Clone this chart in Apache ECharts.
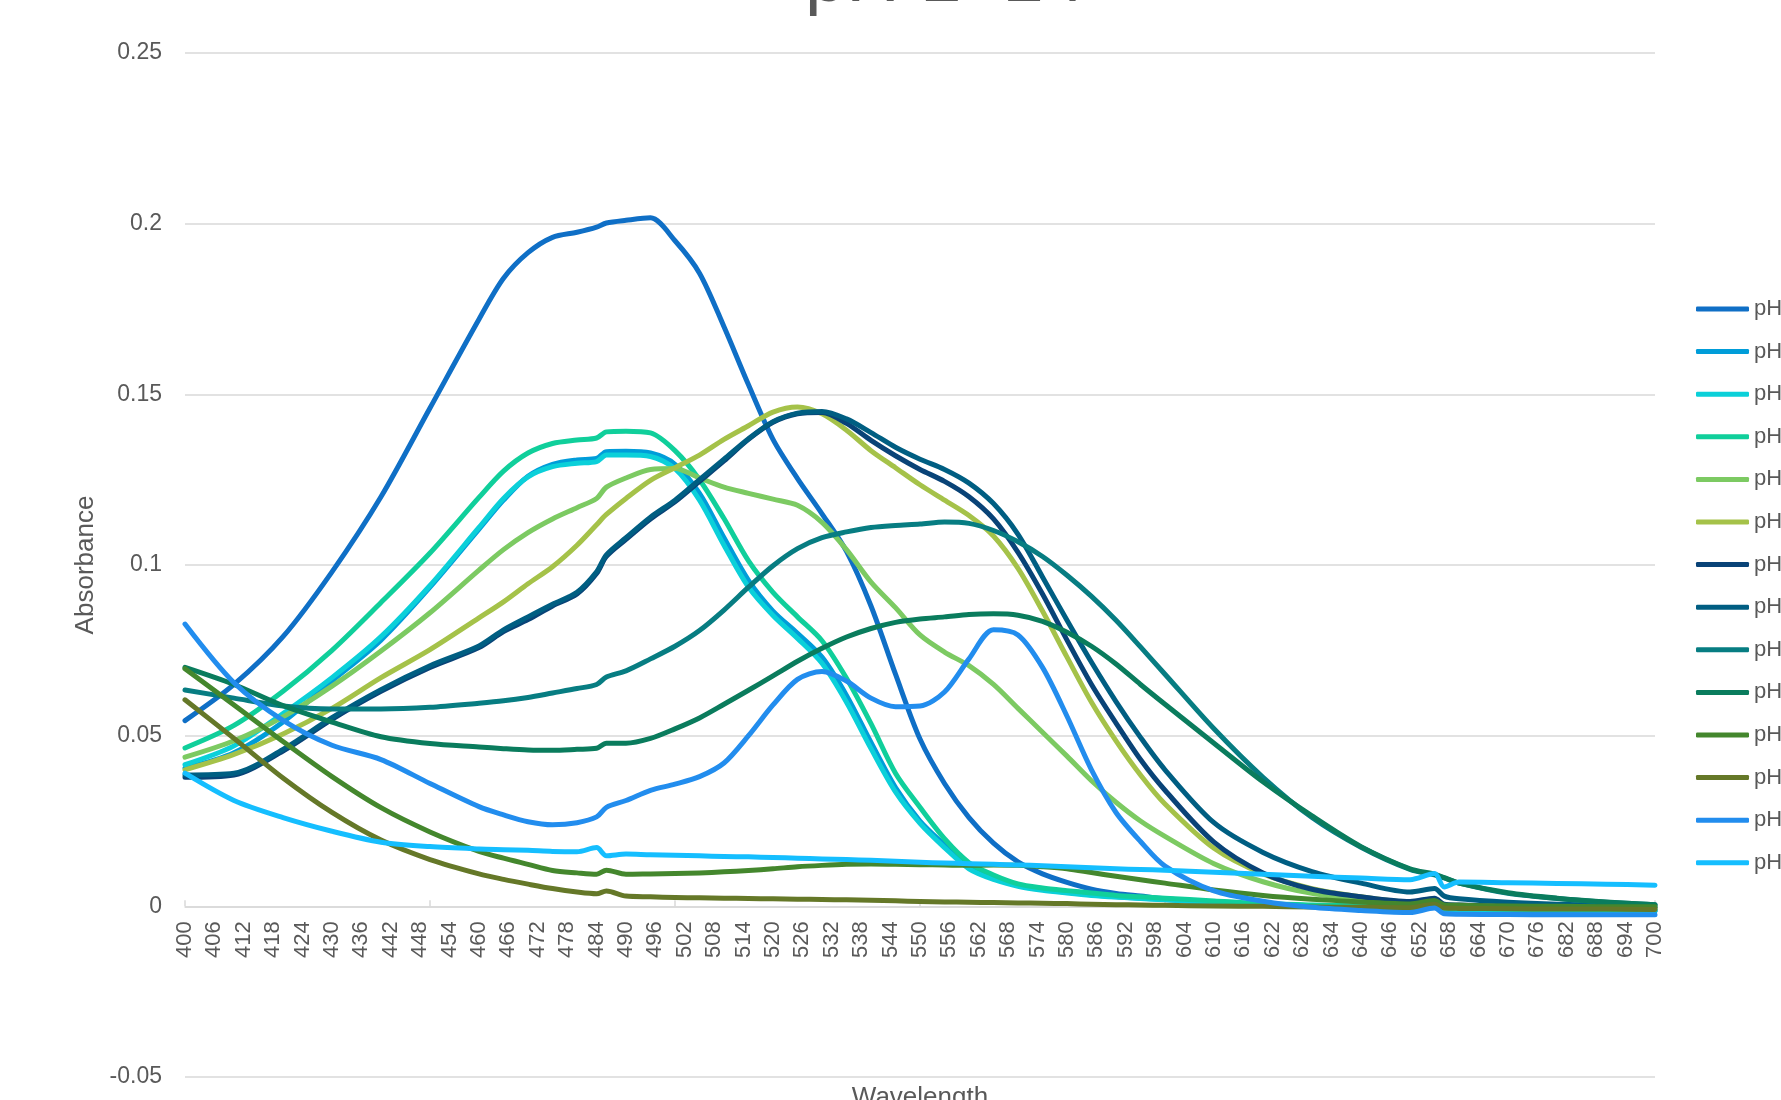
<!DOCTYPE html>
<html>
<head>
<meta charset="utf-8">
<title>pH 1–14</title>
<script src="https://cdn.jsdelivr.net/npm/echarts@6/dist/echarts.min.js"></script>
<style>
    html, body { margin: 0; padding: 0; background: #fff; }
    #chart { width: 1781px; height: 1100px; }
</style>
</head>
<body>
<div id="chart"></div>
<script>
// wavelength (nm) at which each absorbance below was read
var wl = [400, 410, 420, 430, 440, 450, 460, 465, 470, 475, 480, 484, 486, 490, 495, 500, 505, 510, 515, 520, 525, 530, 535, 540, 545, 550, 555, 560, 565, 570, 575, 580, 585, 590, 595, 600, 610, 620, 630, 640, 650, 655, 657, 660, 670, 680, 690, 700];

var ph1 = [0.0544, 0.065, 0.079, 0.098, 0.120, 0.146, 0.172, 0.184, 0.1915, 0.196, 0.1975, 0.199, 0.2002, 0.201, 0.2017, 0.195, 0.1855, 0.1698, 0.1528, 0.1368, 0.1253, 0.115, 0.104, 0.088, 0.068, 0.049, 0.036, 0.026, 0.0185, 0.013, 0.0095, 0.007, 0.005, 0.0038, 0.003, 0.0022, 0.0012, 0.0006, 0.0002, 0, -0.0005, 0.0005, -0.0008, -0.001, -0.0012, -0.0013, -0.0014, -0.0015];
var ph2 = [0.0405, 0.045, 0.054, 0.066, 0.078, 0.0935, 0.1105, 0.119, 0.126, 0.1295, 0.1308, 0.1312, 0.1332, 0.1333, 0.1328, 0.1295, 0.121, 0.108, 0.0955, 0.0865, 0.080, 0.073, 0.0618, 0.048, 0.0348, 0.025, 0.018, 0.0115, 0.0085, 0.0062, 0.005, 0.0041, 0.0034, 0.0028, 0.0024, 0.002, 0.0012, 0.0005, 0.0002, -0.0001, -0.0006, 0.0004, -0.0008, -0.0009, -0.001, -0.0011, -0.0012, -0.0012];
var ph3 = [0.0415, 0.047, 0.0565, 0.067, 0.079, 0.094, 0.111, 0.1195, 0.1258, 0.1288, 0.1298, 0.1303, 0.1322, 0.1322, 0.1318, 0.1282, 0.119, 0.1058, 0.0935, 0.0852, 0.0785, 0.0712, 0.0598, 0.0462, 0.0335, 0.0243, 0.0172, 0.011, 0.0079, 0.0059, 0.0047, 0.0039, 0.0032, 0.0027, 0.0023, 0.0019, 0.0011, 0.0005, 0.0001, -0.0002, -0.0006, 0.0003, -0.0008, -0.0009, -0.001, -0.0011, -0.0012, -0.0012];
var ph4 = [0.0464, 0.053, 0.063, 0.075, 0.089, 0.1035, 0.1198, 0.1275, 0.1328, 0.1356, 0.1366, 0.1372, 0.139, 0.1392, 0.1387, 0.1335, 0.125, 0.1136, 0.1012, 0.092, 0.0848, 0.0778, 0.0668, 0.0535, 0.039, 0.029, 0.0198, 0.0128, 0.0092, 0.0066, 0.0054, 0.0046, 0.0039, 0.0032, 0.0028, 0.0024, 0.0016, 0.0008, 0.0004, 0.0001, -0.0003, 0.0008, -0.0005, -0.0006, -0.0007, -0.0008, -0.0009, -0.001];
var ph5 = [0.0437, 0.0485, 0.0555, 0.0645, 0.0748, 0.086, 0.0985, 0.1045, 0.1095, 0.1135, 0.1168, 0.1195, 0.1228, 0.1255, 0.128, 0.1283, 0.1255, 0.1228, 0.121, 0.1193, 0.1175, 0.1125, 0.1045, 0.095, 0.0875, 0.0795, 0.0745, 0.0705, 0.065, 0.058, 0.051, 0.044, 0.0368, 0.0305, 0.025, 0.0205, 0.0125, 0.0072, 0.0038, 0.002, 0.0008, 0.0015, 0.0002, 0.0001, -0.0002, -0.0004, -0.0005, -0.0006];
var ph6 = [0.040, 0.0445, 0.0505, 0.058, 0.067, 0.0752, 0.0845, 0.0892, 0.0945, 0.0995, 0.1058, 0.1118, 0.1148, 0.1195, 0.1248, 0.1285, 0.1322, 0.1368, 0.1408, 0.1448, 0.1463, 0.1443, 0.1395, 0.1335, 0.1285, 0.1235, 0.119, 0.1145, 0.1085, 0.099, 0.0865, 0.073, 0.0598, 0.0485, 0.0385, 0.030, 0.017, 0.0095, 0.0052, 0.0028, 0.0012, 0.0022, 0.0005, 0.0003, -0.0001, -0.0003, -0.0004, -0.0005];
var ph7 = [0.0378, 0.0385, 0.0455, 0.0548, 0.063, 0.070, 0.0758, 0.0805, 0.084, 0.088, 0.0915, 0.0975, 0.1025, 0.1075, 0.1135, 0.1185, 0.1245, 0.1305, 0.1368, 0.1418, 0.1443, 0.1447, 0.1415, 0.1365, 0.132, 0.128, 0.1245, 0.120, 0.1135, 0.1037, 0.0915, 0.078, 0.065, 0.0537, 0.043, 0.034, 0.0188, 0.0098, 0.005, 0.0028, 0.0014, 0.0024, 0.0006, 0.0004, 0, -0.0002, -0.0003, -0.0004];
var ph8 = [0.0385, 0.039, 0.046, 0.0553, 0.0635, 0.0705, 0.0763, 0.081, 0.0848, 0.0885, 0.092, 0.098, 0.103, 0.108, 0.114, 0.119, 0.125, 0.131, 0.137, 0.142, 0.1445, 0.145, 0.1428, 0.1388, 0.1345, 0.131, 0.128, 0.124, 0.118, 0.109, 0.0965, 0.0838, 0.0715, 0.060, 0.0495, 0.040, 0.0245, 0.0158, 0.0102, 0.0068, 0.0042, 0.0052, 0.003, 0.0022, 0.0012, 0.0006, 0.0003, 0.0001];
var ph9 = [0.0634, 0.061, 0.0587, 0.0578, 0.0578, 0.0583, 0.0595, 0.0602, 0.0612, 0.0625, 0.0638, 0.065, 0.0672, 0.069, 0.0725, 0.0762, 0.0808, 0.0868, 0.0935, 0.0998, 0.1048, 0.108, 0.1097, 0.111, 0.1116, 0.112, 0.1126, 0.1122, 0.1101, 0.1068, 0.1025, 0.097, 0.0908, 0.0838, 0.076, 0.068, 0.052, 0.0378, 0.026, 0.0173, 0.0108, 0.0092, 0.0083, 0.0068, 0.0038, 0.0023, 0.0012, 0.0005];
var ph10 = [0.070, 0.065, 0.0588, 0.054, 0.0497, 0.0477, 0.0467, 0.0462, 0.0458, 0.0457, 0.046, 0.0463, 0.0478, 0.0478, 0.0492, 0.052, 0.0552, 0.0592, 0.0633, 0.0675, 0.0718, 0.0756, 0.0789, 0.0814, 0.0832, 0.0842, 0.0848, 0.0855, 0.0857, 0.0853, 0.0835, 0.0803, 0.0762, 0.071, 0.065, 0.0592, 0.0478, 0.0365, 0.0265, 0.0175, 0.011, 0.0094, 0.0084, 0.0068, 0.004, 0.0024, 0.0013, 0.0005];
var ph11 = [0.0696, 0.059, 0.0483, 0.038, 0.0289, 0.0218, 0.0161, 0.0141, 0.0123, 0.0105, 0.0098, 0.0094, 0.0106, 0.0094, 0.0095, 0.0096, 0.0098, 0.0101, 0.0105, 0.011, 0.0116, 0.012, 0.0123, 0.0124, 0.0123, 0.0122, 0.0121, 0.012, 0.0121, 0.012, 0.0116, 0.011, 0.0099, 0.0088, 0.0078, 0.0068, 0.0048, 0.0032, 0.0021, 0.0013, 0.0007, 0.0017, 0.0004, 0.0003, 0.0001, 0, -0.0001, -0.0001];
var ph12 = [0.0605, 0.0492, 0.0376, 0.0275, 0.0194, 0.0137, 0.0095, 0.0079, 0.0065, 0.0052, 0.0042, 0.0037, 0.0045, 0.003, 0.0028, 0.0026, 0.0025, 0.0024, 0.0023, 0.0022, 0.0021, 0.002, 0.0019, 0.0018, 0.0016, 0.0014, 0.0013, 0.0012, 0.0011, 0.001, 0.0009, 0.0008, 0.0006, 0.0005, 0.0004, 0.0003, 0.0001, 0, -0.0002, -0.0003, -0.0004, 0.0006, -0.0005, -0.0006, -0.0007, -0.0008, -0.0008, -0.0009];
var ph13 = [0.0827, 0.0655, 0.0545, 0.0472, 0.043, 0.036, 0.0292, 0.0268, 0.0248, 0.0239, 0.0245, 0.0262, 0.029, 0.031, 0.034, 0.0358, 0.038, 0.042, 0.050, 0.059, 0.0665, 0.0688, 0.066, 0.061, 0.0585, 0.0587, 0.0628, 0.0725, 0.081, 0.0795, 0.070, 0.0557, 0.040, 0.0275, 0.019, 0.0118, 0.0045, 0.0015, -0.0003, -0.0012, -0.0018, -0.0005, -0.0022, -0.0023, -0.0024, -0.0025, -0.0025, -0.0025];
var ph14 = [0.039, 0.031, 0.026, 0.022, 0.0188, 0.0175, 0.0168, 0.0166, 0.0164, 0.0161, 0.016, 0.0172, 0.0148, 0.0153, 0.0151, 0.015, 0.0148, 0.0146, 0.0145, 0.0143, 0.0141, 0.0139, 0.0137, 0.0135, 0.0132, 0.0129, 0.0127, 0.0125, 0.0123, 0.0121, 0.0119, 0.0116, 0.0113, 0.011, 0.0108, 0.0106, 0.01, 0.0094, 0.0088, 0.0083, 0.0078, 0.0096, 0.0057, 0.0071, 0.0069, 0.0067, 0.0065, 0.0062];

var seriesNames = ["pH 1", "pH 2", "pH 3", "pH 4", "pH 5", "pH 6", "pH 7", "pH 8", "pH 9", "pH 10", "pH 11", "pH 12", "pH 13", "pH 14"];
var seriesValues = [ph1, ph2, ph3, ph4, ph5, ph6, ph7, ph8, ph9, ph10, ph11, ph12, ph13, ph14];
var seriesColors = ["#0F6FC6", "#009DD9", "#0BD0D9", "#10CF9B", "#7CCA62", "#A5C249", "#094377", "#005E82", "#077D82", "#0A7C5D", "#44872D", "#657828", "#228DEE", "#15BEFF"];

// major tick marks on the wavelength axis
var tickWl = [400, 450, 500, 550, 600, 650, 700];

var fontName = '"Liberation Sans", Arial, sans-serif';
var textGrey = "#595959";
var gridGrey = "#D9D9D9";

// plot box in pixels; the wavelength axis sits on absorbance 0
var plotTop = 53;
var plotBottom = 23;
var yMin = -0.05;
var yMax = 0.25;
var plotHeight = 1100 - plotTop - plotBottom;
var zeroShift = plotHeight * (0 - yMin) / (yMax - yMin);

var series = seriesValues.map(function (vals, i) {
    return {
        name: seriesNames[i],
        type: "line",
        symbol: "none",
        smooth: 0.3,
        lineStyle: {
            width: 5,
            color: seriesColors[i],
            cap: "round",
            join: "round",
        },
        itemStyle: {
            color: seriesColors[i],
        },
        data: wl.map(function (w, j) {
            return [w, vals[j]];
        }),
    };
});

var option = {
    animation: false,
    backgroundColor: "#fff",
    textStyle: {
        fontFamily: fontName,
    },
    graphic: [
        {
            // title sits mostly above the top edge, only its foot shows
            type: "text",
            x: 945,
            y: 18,
            style: {
                text: "pH 1–14",
                fontSize: 74,
                fontFamily: fontName,
                fill: textGrey,
                align: "center",
                verticalAlign: "bottom",
            },
        },
    ],
    legend: {
        orient: "vertical",
        left: 1691,
        top: 292,
        icon: "roundRect",
        itemWidth: 53,
        itemHeight: 5,
        itemGap: 18.6,
        data: seriesNames,
        textStyle: {
            fontSize: 22,
            lineHeight: 24,
            color: textGrey,
            fontFamily: fontName,
        },
    },
    grid: {
        left: 185,
        right: 126,
        top: plotTop,
        bottom: plotBottom,
        outerBoundsMode: "none",
    },
    xAxis: {
        type: "value",
        min: 400,
        max: 700,
        interval: 6,
        offset: -zeroShift,
        name: "Wavelength",
        nameLocation: "middle",
        nameGap: 178,
        nameTextStyle: {
            fontSize: 26,
            color: textGrey,
        },
        axisLine: {
            onZero: false,
            lineStyle: { color: gridGrey, width: 1.5 },
        },
        axisTick: {
            show: true,
            inside: true,
            length: 6,
            customValues: tickWl,
            lineStyle: { color: gridGrey, width: 1.5 },
        },
        axisLabel: {
            rotate: 90,
            fontSize: 22,
            color: textGrey,
            margin: 15,
        },
        splitLine: { show: false },
    },
    yAxis: {
        type: "value",
        min: yMin,
        max: yMax,
        interval: 0.05,
        name: "Absorbance",
        nameLocation: "middle",
        nameGap: 81,
        nameTextStyle: {
            fontSize: 26,
            color: textGrey,
        },
        axisLine: { show: false },
        axisTick: { show: false },
        axisLabel: {
            fontSize: 23,
            color: textGrey,
            margin: 23,
            formatter: function (v) {
                return String(+v.toFixed(2));
            },
        },
        splitLine: {
            lineStyle: { color: gridGrey, width: 1.5 },
        },
    },
    series: series,
};

var chartDom = document.getElementById("chart");
var myChart = echarts.init(chartDom);
option && myChart.setOption(option);
</script>
</body>
</html>
